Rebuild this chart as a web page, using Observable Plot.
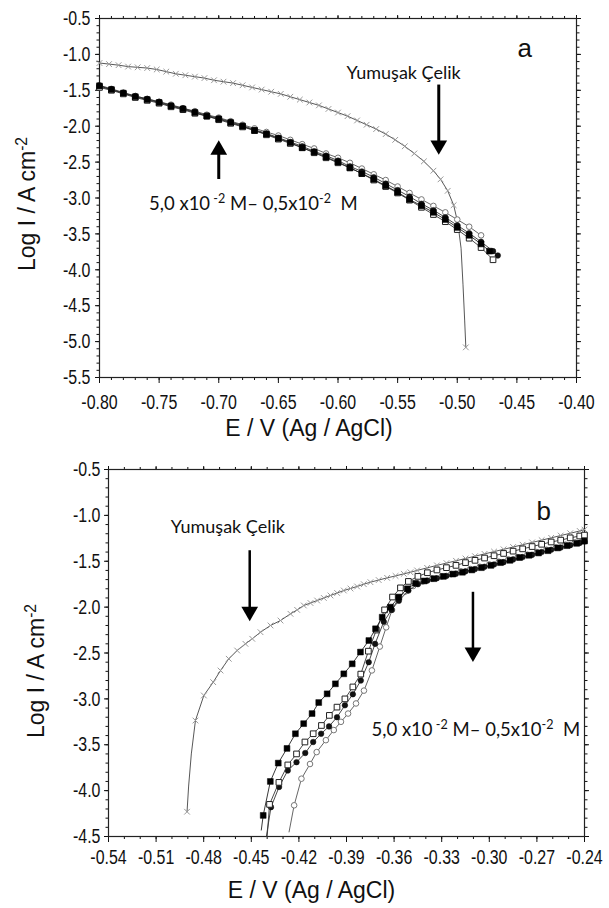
<!DOCTYPE html>
<html><head><meta charset="utf-8">
<script src="https://cdn.jsdelivr.net/npm/d3@7"></script>
<script src="https://cdn.jsdelivr.net/npm/@observablehq/plot@0.6"></script>
<style>
body{margin:0;background:#fff;}
#chart{width:609px;}
#chart svg{display:block;}
</style></head><body><div id="chart"></div>
<script>
// ---------- axis ticks ----------
const xTicksA = [-0.80,-0.75,-0.70,-0.65,-0.60,-0.55,-0.50,-0.45,-0.40];
const yTicksA = [-0.5,-1.0,-1.5,-2.0,-2.5,-3.0,-3.5,-4.0,-4.5,-5.0,-5.5];
const xTicksB = [-0.54,-0.51,-0.48,-0.45,-0.42,-0.39,-0.36,-0.33,-0.30,-0.27,-0.24];
const yTicksB = [-0.5,-1.0,-1.5,-2.0,-2.5,-3.0,-3.5,-4.0,-4.5];

// ---------- texts ----------
const xTitle = "E / V (Ag / AgCl)";
const yTitle = "Log I / A cm^{-2}";
const steelLabel = "Yumuşak Çelik";
const concLabel = "5,0 x10^{ -2} M– 0,5x10^{-2}  M";

// ---------- panel a data [E, log I] ----------
const a_steel = [[-0.800,-1.12],[-0.792,-1.135],[-0.784,-1.15],[-0.776,-1.17],[-0.768,-1.18],[-0.760,-1.19],[-0.752,-1.21],[-0.744,-1.24],[-0.736,-1.27],[-0.728,-1.29],[-0.720,-1.31],[-0.712,-1.33],[-0.704,-1.36],[-0.696,-1.38],[-0.688,-1.40],[-0.680,-1.43],[-0.672,-1.46],[-0.664,-1.49],[-0.656,-1.52],[-0.648,-1.55],[-0.640,-1.59],[-0.632,-1.63],[-0.624,-1.67],[-0.616,-1.71],[-0.608,-1.76],[-0.600,-1.81],[-0.592,-1.86],[-0.584,-1.92],[-0.576,-1.98],[-0.568,-2.04],[-0.560,-2.11],[-0.552,-2.19],[-0.544,-2.28],[-0.536,-2.38],[-0.528,-2.49],[-0.520,-2.62],[-0.514,-2.74],[-0.508,-2.90],[-0.503,-3.10],[-0.4928,-5.08]];
const a_steel_bend = [[-0.4995,-3.35],[-0.4968,-3.70],[-0.4952,-4.20],[-0.4938,-4.70]];
const a_sqFill = [[-0.800,-1.44],[-0.790,-1.49],[-0.780,-1.54],[-0.770,-1.59],[-0.760,-1.63],[-0.750,-1.67],[-0.740,-1.72],[-0.730,-1.76],[-0.720,-1.81],[-0.710,-1.86],[-0.700,-1.90],[-0.690,-1.95],[-0.680,-2.00],[-0.670,-2.06],[-0.660,-2.11],[-0.650,-2.17],[-0.640,-2.23],[-0.630,-2.30],[-0.620,-2.36],[-0.610,-2.43],[-0.600,-2.50],[-0.590,-2.58],[-0.580,-2.66],[-0.570,-2.74],[-0.560,-2.83],[-0.550,-2.92],[-0.540,-3.02],[-0.530,-3.11],[-0.520,-3.20],[-0.510,-3.30],[-0.500,-3.41],[-0.490,-3.52],[-0.480,-3.64],[-0.473,-3.74]];
const a_sqOpen = [[-0.800,-1.46],[-0.790,-1.50],[-0.780,-1.55],[-0.770,-1.60],[-0.760,-1.64],[-0.750,-1.68],[-0.740,-1.73],[-0.730,-1.77],[-0.720,-1.82],[-0.710,-1.86],[-0.700,-1.91],[-0.690,-1.96],[-0.680,-2.01],[-0.670,-2.06],[-0.660,-2.12],[-0.650,-2.18],[-0.640,-2.24],[-0.630,-2.30],[-0.620,-2.37],[-0.610,-2.44],[-0.600,-2.51],[-0.590,-2.58],[-0.580,-2.66],[-0.570,-2.75],[-0.560,-2.84],[-0.550,-2.93],[-0.540,-3.03],[-0.530,-3.13],[-0.520,-3.23],[-0.510,-3.33],[-0.500,-3.44],[-0.490,-3.56],[-0.480,-3.69],[-0.470,-3.86]];
const a_ciFill = [[-0.800,-1.43],[-0.790,-1.48],[-0.780,-1.53],[-0.770,-1.58],[-0.760,-1.62],[-0.750,-1.66],[-0.740,-1.71],[-0.730,-1.75],[-0.720,-1.80],[-0.710,-1.85],[-0.700,-1.89],[-0.690,-1.94],[-0.680,-1.99],[-0.670,-2.05],[-0.660,-2.10],[-0.650,-2.16],[-0.640,-2.22],[-0.630,-2.28],[-0.620,-2.35],[-0.610,-2.41],[-0.600,-2.48],[-0.590,-2.56],[-0.580,-2.63],[-0.570,-2.71],[-0.560,-2.80],[-0.550,-2.89],[-0.540,-2.98],[-0.530,-3.08],[-0.520,-3.17],[-0.510,-3.27],[-0.500,-3.38],[-0.490,-3.49],[-0.480,-3.61],[-0.470,-3.74],[-0.466,-3.80]];
const a_ciOpen = [[-0.800,-1.45],[-0.790,-1.49],[-0.780,-1.54],[-0.770,-1.58],[-0.760,-1.62],[-0.750,-1.66],[-0.740,-1.70],[-0.730,-1.75],[-0.720,-1.79],[-0.710,-1.84],[-0.700,-1.88],[-0.690,-1.93],[-0.680,-1.98],[-0.670,-2.03],[-0.660,-2.08],[-0.650,-2.13],[-0.640,-2.19],[-0.630,-2.25],[-0.620,-2.31],[-0.610,-2.38],[-0.600,-2.44],[-0.590,-2.51],[-0.580,-2.59],[-0.570,-2.67],[-0.560,-2.75],[-0.550,-2.84],[-0.540,-2.93],[-0.530,-3.02],[-0.520,-3.11],[-0.510,-3.20],[-0.500,-3.30],[-0.490,-3.40],[-0.480,-3.52]];

// ---------- panel b data [E, log I] ----------
const b_steel = [[-0.4905,-4.23],[-0.4852,-3.236],[-0.4799,-2.963],[-0.4740,-2.818],[-0.4694,-2.691],[-0.4642,-2.563],[-0.4589,-2.473],[-0.4537,-2.40],[-0.4494,-2.345],[-0.4442,-2.273],[-0.4379,-2.20],[-0.4316,-2.146],[-0.4253,-2.073],[-0.4211,-2.03],[-0.4169,-1.982],[-0.4127,-1.955],[-0.4085,-1.928],[-0.4043,-1.90],[-0.4001,-1.873],[-0.3959,-1.846],[-0.3917,-1.819],[-0.3875,-1.797],[-0.3833,-1.775],[-0.3791,-1.75],[-0.3749,-1.728],[-0.3697,-1.705],[-0.3644,-1.681],[-0.3591,-1.66],[-0.3539,-1.637],[-0.3497,-1.62],[-0.3455,-1.60],[-0.3392,-1.572],[-0.333,-1.545],[-0.327,-1.52],[-0.321,-1.495],[-0.315,-1.47],[-0.309,-1.445],[-0.303,-1.42],[-0.297,-1.395],[-0.291,-1.37],[-0.285,-1.345],[-0.279,-1.32],[-0.273,-1.295],[-0.267,-1.27],[-0.261,-1.245],[-0.255,-1.22],[-0.249,-1.195],[-0.243,-1.17],[-0.240,-1.155]];
const b_steel_bend = [[-0.4895,-3.95],[-0.4878,-3.60]];
const b_sqFill = [[-0.4425,-4.27],[-0.4380,-3.90],[-0.4330,-3.70],[-0.4275,-3.54],[-0.4222,-3.38],[-0.4170,-3.27],[-0.4117,-3.16],[-0.4075,-3.04],[-0.4022,-2.945],[-0.3970,-2.836],[-0.3917,-2.727],[-0.3864,-2.618],[-0.3812,-2.49],[-0.3759,-2.364],[-0.3717,-2.236],[-0.3675,-2.11],[-0.3623,-2.00],[-0.3570,-1.89],[-0.3517,-1.80],[-0.3465,-1.74],[-0.341,-1.715],[-0.335,-1.69],[-0.329,-1.665],[-0.323,-1.64],[-0.317,-1.62],[-0.311,-1.595],[-0.305,-1.57],[-0.299,-1.545],[-0.293,-1.515],[-0.287,-1.49],[-0.281,-1.46],[-0.275,-1.435],[-0.269,-1.41],[-0.263,-1.385],[-0.257,-1.355],[-0.251,-1.33],[-0.245,-1.305],[-0.240,-1.28]];
const b_sqFill_tail = [[-0.4437,-4.43]];
const b_sqOpen = [[-0.4385,-4.15],[-0.4326,-3.91],[-0.4270,-3.72],[-0.4215,-3.60],[-0.4162,-3.47],[-0.4110,-3.38],[-0.4058,-3.29],[-0.4008,-3.18],[-0.3960,-3.09],[-0.3910,-3.00],[-0.3860,-2.87],[-0.3810,-2.73],[-0.3762,-2.48],[-0.3712,-2.25],[-0.3660,-2.03],[-0.3610,-1.89],[-0.3560,-1.79],[-0.3510,-1.72],[-0.3450,-1.665],[-0.339,-1.625],[-0.333,-1.595],[-0.327,-1.57],[-0.321,-1.545],[-0.315,-1.515],[-0.309,-1.49],[-0.303,-1.465],[-0.297,-1.44],[-0.291,-1.415],[-0.285,-1.39],[-0.279,-1.365],[-0.273,-1.34],[-0.267,-1.315],[-0.261,-1.29],[-0.255,-1.27],[-0.249,-1.245],[-0.243,-1.225],[-0.240,-1.215]];
const b_sqOpen_tail = [[-0.4400,-4.50]];
const b_ciFill = [[-0.4376,-4.18],[-0.4325,-3.96],[-0.4270,-3.78],[-0.4215,-3.69],[-0.4160,-3.59],[-0.4110,-3.47],[-0.4060,-3.38],[-0.4010,-3.30],[-0.3960,-3.20],[-0.3910,-3.07],[-0.3860,-2.95],[-0.3810,-2.80],[-0.3760,-2.60],[-0.3720,-2.40],[-0.3665,-2.16],[-0.3616,-2.03],[-0.3570,-1.93],[-0.3510,-1.82],[-0.3450,-1.75],[-0.339,-1.71],[-0.333,-1.685],[-0.327,-1.66],[-0.321,-1.635],[-0.315,-1.61],[-0.309,-1.585],[-0.303,-1.56],[-0.297,-1.535],[-0.291,-1.51],[-0.285,-1.48],[-0.279,-1.455],[-0.273,-1.43],[-0.267,-1.40],[-0.261,-1.375],[-0.255,-1.35],[-0.249,-1.325],[-0.243,-1.30],[-0.240,-1.285]];
const b_ciFill_tail = [[-0.4405,-4.50]];
const b_ciOpen = [[-0.4230,-4.16],[-0.4184,-3.87],[-0.4130,-3.71],[-0.4088,-3.58],[-0.4030,-3.45],[-0.3980,-3.34],[-0.3935,-3.25],[-0.3890,-3.16],[-0.3840,-3.05],[-0.3790,-2.91],[-0.3740,-2.69],[-0.3690,-2.43],[-0.3650,-2.22],[-0.3613,-2.03],[-0.3575,-1.91],[-0.3530,-1.83],[-0.3480,-1.77],[-0.342,-1.72],[-0.336,-1.69],[-0.330,-1.665],[-0.324,-1.64],[-0.318,-1.61],[-0.312,-1.585],[-0.306,-1.56],[-0.300,-1.535],[-0.294,-1.505],[-0.288,-1.48],[-0.282,-1.455],[-0.276,-1.43],[-0.270,-1.40],[-0.264,-1.375],[-0.258,-1.35],[-0.252,-1.32],[-0.246,-1.295],[-0.241,-1.27]];
const b_ciOpen_tail = [[-0.4262,-4.45]];

// ---------- annotation anchors (data coords) ----------
const a_notes = {steel:[-0.545,-1.26], conc:[-0.671,-3.08], letter:[-0.4435,-0.915]};
const a_arrows = [{E:-0.5155, from:-1.42, to:-2.265, dir:"down"},{E:-0.700, from:-2.735, to:-2.33, dir:"up"}];
const b_notes = {steel:[-0.4648,-1.133], conc:[-0.3085,-3.336], letter:[-0.2657,-0.955]};
const b_arrows = [{E:-0.451, from:-1.38, to:-2.048, dir:"down"},{E:-0.3103, from:-1.833, to:-2.493, dir:"down"}];

// ---------- helpers ----------
const SANS = "'Liberation Sans',Arial,sans-serif";
const NOTE = "Lato,'Open Sans',sans-serif";
const obj = arr => arr.map(([E, I]) => ({E, I}));
const merged = (...arrs) => obj([].concat(...arrs)).sort((p, q) => p.E - q.E);
const range = (a, b, step) => d3.range(Math.round(a / step), Math.round(b / step) + 1).map(i => +(i * step).toFixed(4));

function seriesMarks(pts, tail, style) {
  return [
    Plot.line(merged(pts, tail || []), {x: "E", y: "I", stroke: style.line, strokeWidth: 0.9}),
    Plot.dot(obj(pts), {x: "E", y: "I", symbol: style.symbol, r: style.r, fill: style.fill, stroke: style.stroke, strokeWidth: style.sw})
  ];
}

function makePanel(c) {
  const marks = [
    Plot.axisY(c.yMajor, {anchor: "left", tickSize: 4, tickPadding: c.yPad, tickFormat: d => d.toFixed(1), fontSize: 21, label: null}),
    Plot.axisY(c.yMinor, {anchor: "left", tickSize: 2.5, fill: "none", label: null}),
    Plot.axisY(c.yMajor, {anchor: "right", tickSize: 4, fill: "none", label: null}),
    Plot.axisY(c.yMinor, {anchor: "right", tickSize: 2.5, fill: "none", label: null}),
    Plot.axisX(c.xMajor, {anchor: "bottom", tickSize: 6, tickPadding: c.xPad, tickFormat: d => d.toFixed(2), fontSize: 21, label: null}),
    Plot.axisX(c.xMinor, {anchor: "bottom", tickSize: 3, fill: "none", label: null}),
    Plot.axisX(c.xMajor, {anchor: "top", tickSize: 4, fill: "none", label: null}),
    Plot.axisX(c.xMinor, {anchor: "top", tickSize: 3, fill: "none", label: null}),
    Plot.frame({stroke: "#222", strokeWidth: 1.2}),
    ...seriesMarks(c.steel, c.steelBend, {line: "#444", symbol: "times", r: 2.7, fill: "none", stroke: "#9a9a9a", sw: 1}),
    ...seriesMarks(c.ciOpen, c.ciOpenTail, {line: "#555", symbol: "circle", r: 2.8, fill: "white", stroke: "#777", sw: 1}),
    ...seriesMarks(c.ciFill, c.ciFillTail, {line: "#333", symbol: "circle", r: 2.8, fill: "#111", stroke: "#111", sw: 0.5}),
    ...seriesMarks(c.sqOpen, c.sqOpenTail, {line: "#333", symbol: "square", r: 3.2, fill: "white", stroke: "#222", sw: 1}),
    ...seriesMarks(c.sqFill, c.sqFillTail, {line: "#222", symbol: "square", r: 3.3, fill: "#000", stroke: "#000", sw: 0.5}),
    // arrows
    Plot.link(c.arrows, {x1: "E", x2: "E", y1: "from", y2: "to", stroke: "#000", strokeWidth: c.shaft}),
    Plot.dot(c.arrows, {x: "E", y: "to", symbol: "triangle", r: 6.2, fill: "#000", stroke: "none",
      rotate: d => d.dir === "down" ? 180 : 0}),
    // notes
    Plot.text([{E: c.notes.steel[0], I: c.notes.steel[1], t: steelLabel}], {x: "E", y: "I", text: "t", fontSize: 18, fontFamily: NOTE, fill: "#111"}),
    Plot.text([{E: c.notes.conc[0], I: c.notes.conc[1], t: concLabel}], {x: "E", y: "I", text: "t", fontSize: 18.5, fontFamily: NOTE, fill: "#111"}),
    Plot.text([{E: c.notes.letter[0], I: c.notes.letter[1], t: c.letter}], {x: "E", y: "I", text: "t", fontSize: 26, fontFamily: SANS, fill: "#111"}),
    // titles
    Plot.text([xTitle], {frameAnchor: "bottom", textAnchor: "middle", lineAnchor: "middle", dx: c.xTitleDx, dy: c.xTitleDy, fontSize: 23, fontFamily: SANS, fill: "#111"}),
    Plot.text([yTitle], {frameAnchor: "left", textAnchor: "middle", lineAnchor: "middle", dx: c.yTitleDx, dy: c.yTitleDy, rotate: -90, fontSize: 23, fontFamily: SANS, fill: "#111"})
  ];
  const svg = Plot.plot({
    width: 609, height: c.height,
    marginLeft: c.ml, marginRight: c.mr, marginTop: c.mt, marginBottom: c.mb,
    x: {domain: c.xDomain},
    y: {domain: c.yDomain},
    style: {fontFamily: SANS, background: "white", color: "#111", overflow: "visible"},
    marks
  });
  supify(svg);
  condense(svg);
  return svg;
}

// superscripts written as ^{...}
function supify(svg) {
  d3.select(svg).selectAll("text").each(function () {
    const t = this.textContent;
    if (!t.includes("^{")) return;
    const sel = d3.select(this);
    sel.text(null);
    t.split(/\^\{([^}]*)\}/).forEach((p, i) => {
      if (!p) return;
      const ts = sel.append("tspan").attr("xml:space", "preserve").text(p);
      if (i % 2 === 1) ts.attr("baseline-shift", "super").attr("font-size", "68%");
    });
  });
}

// narrow tick labels (the reference uses a condensed face)
function condense(svg) {
  d3.select(svg).selectAll('g[aria-label$="tick label"] text').each(function () {
    const tr = this.getAttribute("transform") || "";
    this.setAttribute("transform", tr + " scale(0.76,1)");
  });
}

const chart = document.getElementById("chart");
chart.append(makePanel({
  height: 450, ml: 99, mr: 33, mt: 18, mb: 73,
  xDomain: [-0.80, -0.40], yDomain: [-5.5, -0.5],
  xMajor: xTicksA, yMajor: yTicksA,
  xMinor: range(-0.80, -0.40, 0.01), yMinor: range(-5.5, -0.5, 0.1),
  steel: a_steel, steelBend: a_steel_bend,
  sqFill: a_sqFill, sqOpen: a_sqOpen, ciFill: a_ciFill, ciOpen: a_ciOpen,
  arrows: a_arrows, shaft: 3, notes: a_notes, letter: "a",
  xPad: 11, yPad: 5,
  xTitleDx: -29, xTitleDy: 51, yTitleDx: -72, yTitleDy: 6
}));
chart.append(makePanel({
  height: 458, ml: 108, mr: 25, mt: 19, mb: 72,
  xDomain: [-0.54, -0.24], yDomain: [-4.5, -0.5],
  xMajor: xTicksB, yMajor: yTicksB,
  xMinor: range(-0.54, -0.24, 0.01), yMinor: range(-4.5, -0.5, 0.1),
  steel: b_steel, steelBend: b_steel_bend,
  sqFill: b_sqFill, sqFillTail: b_sqFill_tail, sqOpen: b_sqOpen, sqOpenTail: b_sqOpen_tail,
  ciFill: b_ciFill, ciFillTail: b_ciFill_tail, ciOpen: b_ciOpen, ciOpenTail: b_ciOpen_tail,
  arrows: b_arrows, shaft: 2.5, notes: b_notes, letter: "b",
  xPad: 7, yPad: 4,
  xTitleDx: -35, xTitleDy: 54, yTitleDx: -72, yTitleDy: 18
}));
</script></body></html>
